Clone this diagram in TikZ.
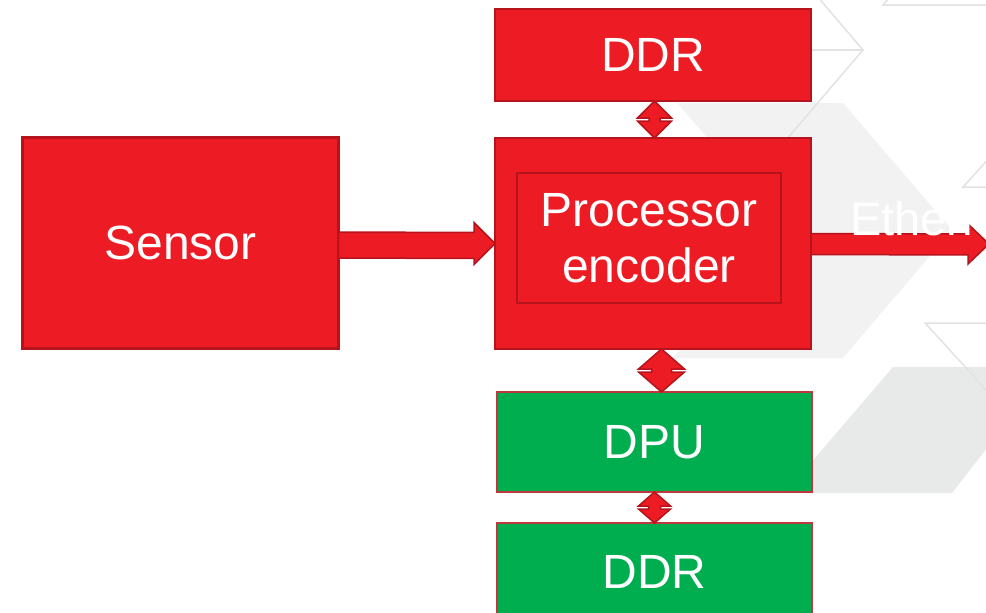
\documentclass[tikz,border=0pt]{standalone}
\usepackage{fontspec}
\setmainfont{Liberation Sans}
\usetikzlibrary{calc}

\definecolor{brandred}{HTML}{ED1C24}
\definecolor{edgered}{HTML}{B5141C}
\definecolor{dpugreen}{HTML}{00AE50}
\definecolor{paneA}{HTML}{F2F2F2}
\definecolor{paneB}{HTML}{E8E9E9}
\definecolor{faint}{HTML}{E2E2E2}

\tikzset{
  block/.style={draw=edgered, fill=brandred, line width=2.2pt, inner sep=0pt,
    outer sep=0pt, text=white, font=\fontsize{48}{56}\selectfont, align=center},
  greenblock/.style={block, fill=dpugreen, draw=edgered!85!white, line width=1.8pt},
  arrowbody/.style={fill=brandred, draw=edgered, line width=1.5pt, line join=miter},
  backline/.style={draw=faint, line width=1.5pt},
  label/.style={text=white, inner sep=0pt, font=\fontsize{47}{56}\selectfont},
}

% vertical two-way block arrow: top tip, bottom tip, head half width, shaft half width
\newcommand\twowaylink[4]{%
  \coordinate (twm) at ($#1!0.5!#2$);
  \filldraw[arrowbody] #1 -- ($(twm)+(#3,-1.5)$) -- ($(twm)+(#4,-1.5)$)
    -- ($(twm)+(#4,1.5)$) -- ($(twm)+(#3,1.5)$) -- #2
    -- ($(twm)+(-#3,1.5)$) -- ($(twm)+(-#4,1.5)$)
    -- ($(twm)+(-#4,-1.5)$) -- ($(twm)+(-#3,-1.5)$) -- cycle;
}

\begin{document}
\begin{tikzpicture}[x=1pt,y=-1pt]
\useasboundingbox (0,0) rectangle (986,613);
\clip (0,0) rectangle (986,613);

% backdrop panels and outlines
\fill[paneA] (677,103) -- (843,103) -- (952,230) -- (843,358) -- (673,358) -- (788,230) -- cycle;
\fill[paneB] (893,367) -- (1050,367) -- (952,493) -- (785,493) -- cycle;
\draw[backline] (817,-4) -- (863,50) -- (780,147);
\draw[backline] (800,50) -- (863,50);
\draw[backline] (891,-4) -- (883,5) -- (990,5);
\draw[backline] (992,155) -- (963,187) -- (990,187);
\draw[backline] (990,323) -- (925,323) -- (1000,405);

% blocks
\node[block, minimum width=316pt, minimum height=211pt] (sensor) at (180.5,243) {Sensor};
\node[block, minimum width=316pt, minimum height=92pt] (ddrtop) at (653,55) {DDR};
\node[block, minimum width=316pt, minimum height=211pt] (proc) at (653,243.5) {};
\node[block, minimum width=264pt, minimum height=130pt] (core) at (649,238) {Processor\\encoder};
\node[greenblock, minimum width=315pt, minimum height=100pt] (dpu) at (654.5,442) {DPU};
\node[greenblock, minimum width=315pt, minimum height=98pt] (ddrlow) at (654.5,572) {DDR};

% sensor to processor
\filldraw[arrowbody] ($(sensor.east)+(0,-11)$) -- ($(proc.west)+(-21,-11)$)
  -- ($(proc.west)+(-21,-21)$) -- (proc.west) -- ($(proc.west)+(-21,21)$)
  -- ($(proc.west)+(-21,15)$) -- ($(sensor.east)+(0,15)$) -- cycle;

% processor out to ethernet
\coordinate (ethtip) at (989,244);
\filldraw[arrowbody] ($(proc.east)+(0,-10)$) -- ($(ethtip)+(-21,-10)$)
  -- ($(ethtip)+(-21,-20)$) -- (ethtip) -- ($(ethtip)+(-21,20)$)
  -- ($(ethtip)+(-21,11)$) -- ($(proc.east)+(0,11)$) -- cycle;
\node[label, anchor=base west] (ethlabel) at (850,235) {Ethernet};

% memory and accelerator links
\coordinate (l1a) at ($(ddrtop.south)+(1.5,0)$);
\coordinate (l1b) at ($(proc.north)+(1.5,0)$);
\twowaylink{(l1a)}{(l1b)}{17}{5.5}
\coordinate (l2a) at ($(proc.south)+(8.5,0)$);
\coordinate (l2b) at ($(dpu.north)+(7,0)$);
\twowaylink{(l2a)}{(l2b)}{23}{10}
\twowaylink{(dpu.south)}{(ddrlow.north)}{16}{6}
\end{tikzpicture}
\end{document}
